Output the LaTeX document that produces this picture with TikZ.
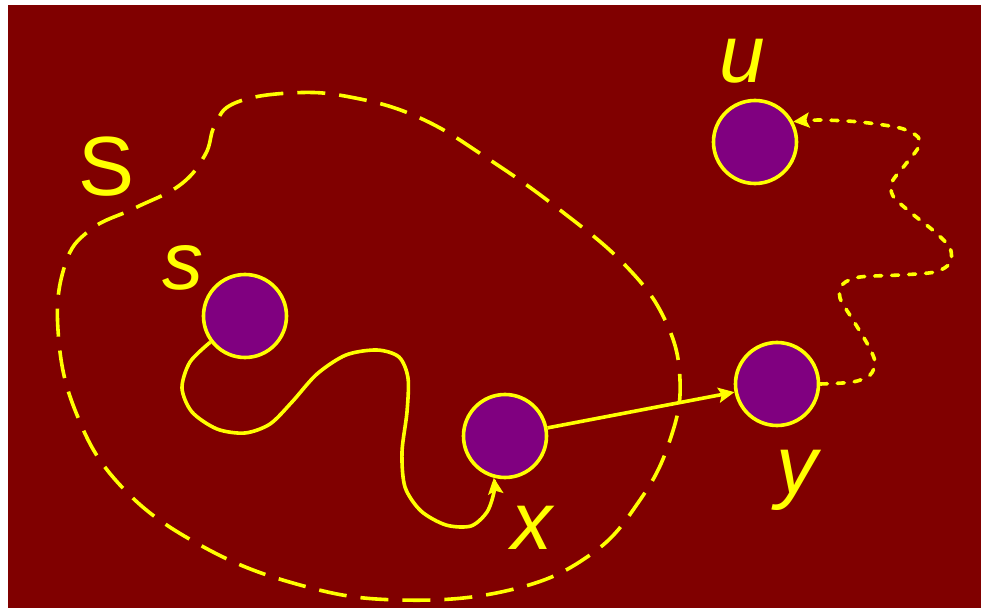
\documentclass[tikz,border=0pt]{standalone}
\usepackage{fontspec}
\setmainfont{Liberation Sans}
\usetikzlibrary{arrows.meta}
\definecolor{bgc}{HTML}{800000}
\definecolor{vtxc}{HTML}{800080}
\definecolor{linec}{HTML}{FFFF00}
\tikzset{
  ar/.style={-{Stealth[length=8pt,width=7.5pt,inset=1.5pt]},line width=1.8pt,linec},
  nd/.style={circle,draw=linec,line width=1.8pt,fill=vtxc,minimum size=41.5pt,inner sep=0pt},
  lbl/.style={text=linec,font=\fontsize{41}{41}\selectfont\itshape,inner sep=0pt,anchor=base}
}
\begin{document}
\begin{tikzpicture}[x=0.5pt,y=-0.5pt]
\useasboundingbox (0,0) rectangle (981,610);
\fill[bgc] (8,5) rectangle (981,608);
% the set S
\draw[linec,line width=1.8pt,dash pattern=on 14pt off 7pt]
  plot[smooth cycle,tension=0.7] coordinates {(180,185) (205,155) (215,125) (235,103) (290,93)
  (350,97) (420,118) (490,160) (560,210) (625,265) (665,320) (680,380) (670,440) (640,500)
  (590,555) (510,590) (400,600) (300,585) (200,545) (120,485) (75,410) (58,330) (65,265)
  (90,230) (135,208)};
% vertices
\node[nd] (s) at (245,316) {};
\node[nd] (x) at (505,436) {};
\node[nd] (y) at (777,384) {};
\node[nd] (u) at (755,142) {};
% labels
\node[lbl,font=\fontsize{42}{42}\selectfont] (Slbl) at (107,196) {S};
\node[lbl] (slbl) at (183,289) {s};
\node[lbl] (ulbl) at (742,83) {u};
\node[lbl] (ylbl) at (797,493) {y};
\node[lbl] (xlbl) at (532,549) {x};
% paths
\draw[ar] plot[smooth] coordinates {(s.217) (190,362) (182,388) (192,412) (217,429) (245,433)
  (270,424) (292,402) (317,374) (346,355) (377,350) (399,357) (408,378) (407,412) (402,452)
  (405,487) (421,511) (446,525) (471,526) (487,512) (494,492) (x.255)};
\draw[ar] (x) -- (y);
\draw[ar,dash pattern=on 3.5pt off 5pt,line cap=round] plot[smooth] coordinates {(y.east)
  (853,382) (870,375) (875,362) (868,345) (853,320) (840,298) (843,284) (860,277) (900,275)
  (935,272) (950,263) (950,248) (935,232) (910,212) (893,196) (892,182) (905,165) (918,148)
  (918,137) (900,128) (860,122) (820,120) (u.28)};
\end{tikzpicture}
\end{document}
